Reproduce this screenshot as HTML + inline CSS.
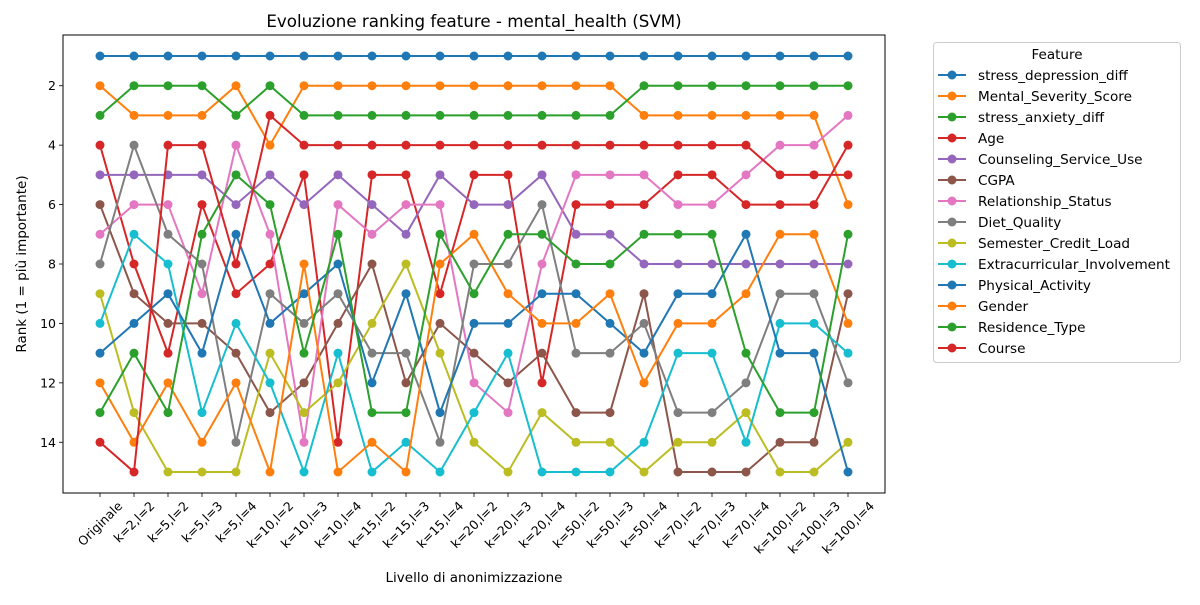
<!DOCTYPE html>
<html><head><meta charset="utf-8"><style>
body{margin:0;background:#fff}
svg{font-family:"DejaVu Sans","Liberation Sans",sans-serif}
</style></head><body>
<svg id="chart" width="1200" height="600" viewBox="0 0 1200 600">
<rect width="1200" height="600" fill="#fff"/>
<text x="474" y="27" font-size="16.7" text-anchor="middle">Evoluzione ranking feature - mental_health (SVM)</text>
<g id="plot"></g>
<text x="474" y="582" font-size="13.5" text-anchor="middle">Livello di anonimizzazione</text>
<text x="26" y="264" font-size="13.5" text-anchor="middle" transform="rotate(-90 26 264)">Rank (1 = più importante)</text>
<g id="legend"></g>
</svg>
<script>
const categories=["Originale","k=2,l=2","k=5,l=2","k=5,l=3","k=5,l=4","k=10,l=2","k=10,l=3","k=10,l=4","k=15,l=2","k=15,l=3","k=15,l=4","k=20,l=2","k=20,l=3","k=20,l=4","k=50,l=2","k=50,l=3","k=50,l=4","k=70,l=2","k=70,l=3","k=70,l=4","k=100,l=2","k=100,l=3","k=100,l=4"];
const seriesNames=["stress_depression_diff","Mental_Severity_Score","stress_anxiety_diff","Age","Counseling_Service_Use","CGPA","Relationship_Status","Diet_Quality","Semester_Credit_Load","Extracurricular_Involvement","Physical_Activity","Gender","Residence_Type","Course"];
const colors=["#1f77b4","#ff7f0e","#2ca02c","#d62728","#9467bd","#8c564b","#e377c2","#7f7f7f","#bcbd22","#17becf","#1f77b4","#ff7f0e","#2ca02c","#d62728"];
const s_stress_depression=[1,1,1,1,1,1,1,1,1,1,1,1,1,1,1,1,1,1,1,1,1,1,1];
const s_mental_severity=[2,3,3,3,2,4,2,2,2,2,2,2,2,2,2,2,3,3,3,3,3,3,6];
const s_stress_anxiety=[3,2,2,2,3,2,3,3,3,3,3,3,3,3,3,3,2,2,2,2,2,2,2];
const s_age=[4,8,11,6,9,8,5,14,5,5,9,5,5,12,6,6,6,5,5,6,6,6,4];
const s_counseling=[5,5,5,5,6,5,6,5,6,7,5,6,6,5,7,7,8,8,8,8,8,8,8];
const s_cgpa=[6,9,10,10,11,13,12,10,8,12,10,11,12,11,13,13,9,15,15,15,14,14,9];
const s_relationship=[7,6,6,9,4,7,14,6,7,6,6,12,13,8,5,5,5,6,6,5,4,4,3];
const s_diet=[8,4,7,8,14,9,10,9,11,11,14,8,8,6,11,11,10,13,13,12,9,9,12];
const s_semester=[9,13,15,15,15,11,13,12,10,8,11,14,15,13,14,14,15,14,14,13,15,15,14];
const s_extracurricular=[10,7,8,13,10,12,15,11,15,14,15,13,11,15,15,15,14,11,11,14,10,10,11];
const s_physical=[11,10,9,11,7,10,9,8,12,9,13,10,10,9,9,10,11,9,9,7,11,11,15];
const s_gender=[12,14,12,14,12,15,8,15,14,15,8,7,9,10,10,9,12,10,10,9,7,7,10];
const s_residence=[13,11,13,7,5,6,11,7,13,13,7,9,7,7,8,8,7,7,7,11,13,13,7];
const s_course=[14,15,4,4,8,3,4,4,4,4,4,4,4,4,4,4,4,4,4,4,5,5,5];
const yTicks=[2,4,6,8,10,12,14];
const allSeries=[s_stress_depression,s_mental_severity,s_stress_anxiety,s_age,s_counseling,s_cgpa,s_relationship,s_diet,s_semester,s_extracurricular,s_physical,s_gender,s_residence,s_course];

const NS="http://www.w3.org/2000/svg";
const L=63,R=885,T=35,B=493;
const xs=i=>100+i*(748/(categories.length-1));
const ys=v=>56+(v-1)*(416/14);
function mk(tag,attrs,parent){const e=document.createElementNS(NS,tag);for(const k in attrs)e.setAttribute(k,attrs[k]);parent.appendChild(e);return e;}
const plot=document.getElementById('plot');
yTicks.forEach(t=>{
  const y=ys(t);
  const tk=mk('line',{x1:L-4,x2:L,y1:y,y2:y,stroke:'#000','stroke-width':0.8},plot);
  
  
  const tx=mk('text',{x:L-7,y:y+4.5,'font-size':12.5,'text-anchor':'end'},plot);
  tx.textContent=t;
  
  
});
categories.forEach((c,i)=>{
  const x=xs(i);
  const tk=mk('line',{x1:x,x2:x,y1:B,y2:B+4,stroke:'#000','stroke-width':0.8},plot);
  
  
  const tx=mk('text',{x:0,y:0,'font-size':12.5,'text-anchor':'middle','dominant-baseline':'central'},plot);
  tx.textContent=c;
  
  
  const w=tx.getComputedTextLength();
  const h=(w+13)*0.7071;
  const cy=B+6+h/2;
  tx.setAttribute('transform',`translate(${x} ${cy}) rotate(-45)`);
});
allSeries.forEach((arr,si)=>{
  const g=mk('g',{},plot);
  
  
  mk('polyline',{points:arr.map((v,i)=>xs(i)+','+ys(v)).join(' '),fill:'none',stroke:colors[si],'stroke-width':2},g);
  arr.forEach((v,i)=>{
    const c=mk('circle',{cx:xs(i),cy:ys(v),r:4.5,fill:colors[si]},g);
    
    
  });
});
const frame=mk('rect',{x:L,y:T,width:R-L,height:B-T,fill:'none',stroke:'#000','stroke-width':1},plot);


const lg=document.getElementById('legend');
mk('rect',{x:933.5,y:42.5,width:247,height:320,rx:3,fill:'#fff',stroke:'#ccc'},lg);
const lt=mk('text',{x:1057,y:59,'font-size':13.5,'text-anchor':'middle'},lg);
lt.textContent='Feature';


seriesNames.forEach((n,i)=>{
  const y=75+i*21;
  const g=mk('g',{},lg);
  
  
  mk('line',{x1:938,x2:966,y1:y,y2:y,stroke:colors[i],'stroke-width':2},g);
  mk('circle',{cx:952,cy:y,r:4.5,fill:colors[i]},g);
  const t=mk('text',{x:978,y:y+5,'font-size':13.6},g);
  t.textContent=n;
});
</script>
</body></html>
